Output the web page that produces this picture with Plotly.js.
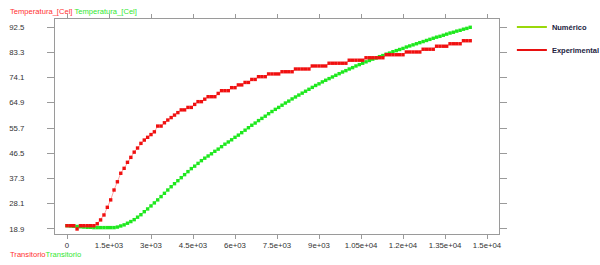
<!DOCTYPE html>
<html>
<head>
<meta charset="utf-8">
<script src="https://cdn.plot.ly/plotly-3.0.1.min.js"></script>
<style>html,body{margin:0;padding:0;background:#fff;}#chart{width:600px;height:265px;}</style>
</head>
<body>
<div id="chart"></div>
<script>
// Time (s)
var time = [0,120,240,360,480,600,720,840,960,1080,1200,1320,1440,1560,1680,1800,1920,2040,2160,2280,
2400,2520,2640,2760,2880,3000,3120,3240,3360,3480,3600,3720,3840,3960,4080,4200,4320,4440,4560,4680,
4800,4920,5040,5160,5280,5400,5520,5640,5760,5880,6000,6120,6240,6360,6480,6600,6720,6840,6960,7080,
7200,7320,7440,7560,7680,7800,7920,8040,8160,8280,8400,8520,8640,8760,8880,9000,9120,9240,9360,9480,
9600,9720,9840,9960,10080,10200,10320,10440,10560,10680,10800,10920,11040,11160,11280,11400,11520,11640,11760,11880,
12000,12120,12240,12360,12480,12600,12720,12840,12960,13080,13200,13320,13440,13560,13680,13800,13920,14040,14160,14280,14400];

// Numérico
var numerico = [20.1,20.0,19.9,19.8,19.7,19.6,19.5,19.5,19.4,19.4,
19.4,19.4,19.4,19.4,19.4,19.6,20.0,20.4,21.0,21.6,
22.3,23.2,24.1,25.2,26.2,27.3,28.4,29.5,30.7,31.9,
33.1,34.3,35.4,36.5,37.6,38.7,39.8,40.9,41.8,42.8,
43.8,44.7,45.5,46.3,47.2,48.0,48.9,49.8,50.6,51.4,
52.3,53.1,54.0,54.9,55.8,56.7,57.5,58.4,59.2,60.0,
60.9,61.7,62.5,63.2,64.0,64.8,65.5,66.3,67.0,67.7,
68.4,69.1,69.8,70.5,71.2,71.8,72.5,73.1,73.7,74.3,
74.9,75.5,76.1,76.6,77.2,77.7,78.3,78.8,79.3,79.8,
80.3,80.8,81.2,81.7,82.1,82.6,83.0,83.5,83.9,84.3,
84.7,85.2,85.6,86.0,86.4,86.8,87.2,87.6,88.0,88.4,
88.8,89.1,89.5,89.9,90.3,90.6,91.0,91.3,91.7,92.0,92.4];

// Experimental
var experimental = [20.1,20.1,20.1,18.9,20.1,20.1,20.1,20.1,20.1,20.8,
22.2,24.0,26.8,29.5,33.1,36.1,39.2,41.0,43.2,45.0,
46.9,48.4,50.1,51.3,52.3,53.3,54.3,56.4,56.4,57.6,
58.6,59.5,60.4,61.3,62.3,62.3,63.2,63.2,64.3,65.3,
65.3,66.2,67.1,67.1,67.1,68.3,69.3,69.3,69.3,70.4,
70.4,71.4,71.4,72.3,72.3,73.4,73.4,74.4,74.4,74.4,
75.4,75.4,75.4,75.4,76.2,76.2,76.2,76.2,77.2,77.2,
77.2,77.2,77.2,78.3,78.3,78.3,78.3,78.3,79.3,79.3,
79.3,79.3,79.3,79.3,80.4,80.4,80.4,80.4,80.4,81.3,
81.3,81.3,81.3,81.3,81.3,82.4,82.4,82.4,82.4,82.4,
82.4,83.4,83.4,83.4,83.4,83.4,84.4,84.4,84.4,84.4,
85.5,85.5,85.5,85.5,86.4,86.4,86.4,86.4,87.5,87.5,87.5];

var xTickVals = [0,1500,3000,4500,6000,7500,9000,10500,12000,13500,15000];
var xTickText = ["0","1.5e+03","3e+03","4.5e+03","6e+03","7.5e+03","9e+03","1.05e+04","1.2e+04","1.35e+04","1.5e+04"];
var yTickVals = [18.9,28.1,37.3,46.5,55.7,64.9,74.1,83.3,92.5];
var yTickText = ["18.9","28.1","37.3","46.5","55.7","64.9","74.1","83.3","92.5"];

var traces = [
  {x: time, y: numerico, type:'scatter', mode:'lines+markers', showlegend:false,
   line:{color:'rgba(60,240,60,0.5)', width:1},
   marker:{symbol:'square', size:3.4, color:'#1ee81e', line:{width:0}}},
  {x: time, y: experimental, type:'scatter', mode:'lines+markers', showlegend:false,
   line:{color:'rgba(255,90,90,0.55)', width:1},
   marker:{symbol:'square', size:3.4, color:'#f01010', line:{width:0}}},
  {x:[null], y:[null], type:'scatter', mode:'lines', name:'Numérico', legendgroup:'a',
   line:{color:'#9ad80a', width:2}},
  {x:[null], y:[null], type:'scatter', mode:'lines', name:'Experimental', legendgroup:'b',
   line:{color:'#e81010', width:2}}
];

var axisCommon = {
  showgrid:false, zeroline:false, showline:true, linecolor:'#9a9a9a', linewidth:1,
  ticks:'outside', tickcolor:'#9a9a9a', tickwidth:1, mirror:'ticks',
  tickfont:{family:'Liberation Sans, Arial, sans-serif', size:7.8, color:'#333'}
};

var layout = {
  width:600, height:265,
  margin:{l:55, r:101, t:19, b:31, pad:0, autoexpand:false},
  paper_bgcolor:'#fff', plot_bgcolor:'#fff',
  xaxis: Object.assign({}, axisCommon, {range:[-428.6,15428.6], tickmode:'array', tickvals:xTickVals, ticktext:xTickText, ticklen:4, automargin:false}),
  yaxis: Object.assign({}, axisCommon, {range:[17.07,95.42], tickmode:'array', tickvals:yTickVals, ticktext:yTickText, ticklen:7, ticklabelstandoff:21, automargin:false}),
  showlegend:true,
  legend:{x:1.029, xanchor:'left', y:1.030, yanchor:'top', bgcolor:'rgba(0,0,0,0)', borderwidth:0,
    traceorder:'grouped', tracegroupgap:4,
    font:{family:'Liberation Sans, Arial, sans-serif', size:7.5, color:'#222240', weight:'bold'}},
  annotations:[
    {xref:'paper', yref:'paper', x:-0.106, y:1.037, xanchor:'left', yanchor:'middle', showarrow:false,
     text:'<span style="color:#ff3030">Temperatura_[Cel]</span> <span style="color:#30e830">Temperatura_[Cel]</span>',
     font:{family:'Liberation Sans, Arial, sans-serif', size:7.6}},
    {xref:'paper', yref:'paper', x:-0.106, y:-0.095, xanchor:'left', yanchor:'middle', showarrow:false,
     text:'<span style="color:#ff3030">Transitorio</span><span style="color:#30e830">Transitorio</span>',
     font:{family:'Liberation Sans, Arial, sans-serif', size:7.6}}
  ]
};

Plotly.newPlot('chart', traces, layout, {displayModeBar:false, staticPlot:true});
</script>
</body>
</html>
